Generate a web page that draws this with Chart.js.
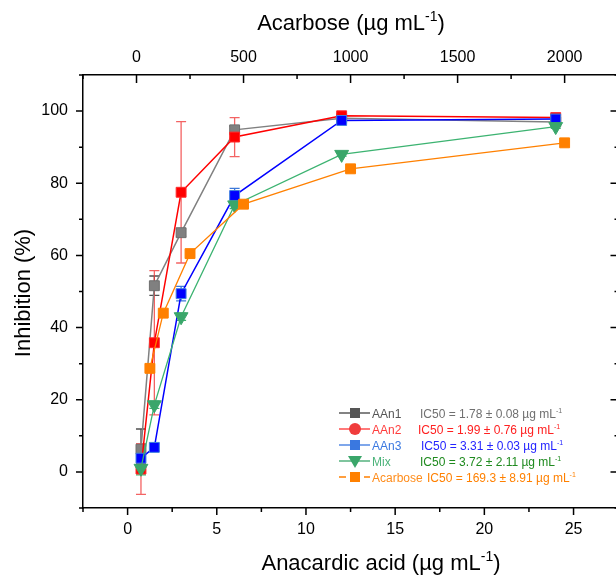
<!DOCTYPE html>
<html>
<head>
<meta charset="utf-8">
<script src="https://cdn.jsdelivr.net/npm/chart.js@4.4.0/dist/chart.umd.min.js"></script>
<style>
  html, body { margin: 0; padding: 0; background: #fff; overflow: hidden; }
  canvas { display: block; }
</style>
</head>
<body>
<canvas id="inhib" width="616" height="577"></canvas>
<script>
// concentrations
var aaConc = [0.75, 1.5, 3, 6, 12, 24];            // anacardic acid, ug/mL (bottom axis)
var acarboseConc = [62.5, 125, 250, 500, 1000, 2000]; // acarbose, ug/mL (top axis)

// inhibition (%) and error
var aan1 = [6.3, 51.6, 66.3, 94.8, 98.0, 97.0];
var aan1Err = [5.6, 2.7, 1.0, 1.0, 0.5, 0.5];
var aan2 = [0.8, 35.8, 77.5, 92.8, 98.7, 98.2];
var aan2Err = [7.0, 20.0, 19.6, 5.4, 0.8, 0.6];
var aan3 = [3.8, 6.8, 49.4, 76.6, 97.4, 97.8];
var aan3Err = [1.5, 1.0, 2.0, 2.0, 0.6, 0.6];
var mix = [1.0, 18.6, 43.0, 74.0, 88.0, 95.7];
var mixErr = [1.8, 1.0, 1.0, 1.0, 0.5, 0.5];
var acarbose = [28.7, 44.0, 60.5, 74.2, 84.0, 91.2];
var acarboseErr = [0, 0, 0, 0, 0, 0];

var xTicks = [0, 5, 10, 15, 20, 25];
var x2Ticks = [0, 500, 1000, 1500, 2000];
var yTicks = [0, 20, 40, 60, 80, 100];

var seriesNames = ['AAn1', 'AAn2', 'AAn3', 'Mix', 'Acarbose'];
var ic50Text = [
  'IC50 = 1.78 \u00b1 0.08 \u00b5g mL',
  'IC50 = 1.99 \u00b1 0.76 \u00b5g mL',
  'IC50 = 3.31 \u00b1 0.03 \u00b5g mL',
  'IC50 = 3.72 \u00b1 2.11 \u00b5g mL',
  'IC50 = 169.3 \u00b1 8.91 \u00b5g mL'
];

var FONT = '"Liberation Sans", Arial, sans-serif';
Chart.defaults.font.family = FONT;
Chart.defaults.color = '#000';

function pts(xs, ys) {
  return xs.map(function (x, i) { return { x: x, y: ys[i] }; });
}

// draw text with a superscript piece: parts = [[text, isSup], ...]
function supText(ctx, parts, x, y, size, align) {
  var big = size + 'px ' + FONT, small = Math.round(size * 0.62) + 'px ' + FONT;
  var w = 0;
  parts.forEach(function (p) { ctx.font = p[1] ? small : big; w += ctx.measureText(p[0]).width; });
  var cx = align === 'center' ? x - w / 2 : x;
  ctx.textAlign = 'left';
  ctx.textBaseline = 'alphabetic';
  parts.forEach(function (p) {
    ctx.font = p[1] ? small : big;
    ctx.fillText(p[0], cx, p[1] ? y - size * 0.4 : y);
    cx += ctx.measureText(p[0]).width;
  });
}

var errorSets = [aan1Err, aan2Err, aan3Err, mixErr, acarboseErr];
var errorColors = ['#505050', 'rgba(240,60,60,0.8)', '#3c78d8', '#3cb371', '#ff8000'];

var errorBars = {
  id: 'errorBars',
  beforeDatasetsDraw: function (chart) {
    var ctx = chart.ctx, y = chart.scales.y;
    ctx.save();
    ctx.lineWidth = 1.3;
    errorSets.forEach(function (errs, di) {
      var meta = chart.getDatasetMeta(di);
      ctx.strokeStyle = errorColors[di];
      meta.data.forEach(function (el, i) {
        var e = errs[i];
        if (!e) return;
        var v = chart.data.datasets[di].data[i].y;
        var top = y.getPixelForValue(v + e), bot = y.getPixelForValue(v - e);
        ctx.beginPath();
        ctx.moveTo(el.x, top); ctx.lineTo(el.x, bot);
        ctx.moveTo(el.x - 5, top); ctx.lineTo(el.x + 5, top);
        ctx.moveTo(el.x - 5, bot); ctx.lineTo(el.x + 5, bot);
        ctx.stroke();
      });
    });
    ctx.restore();
  }
};

var frame = {
  id: 'frame',
  afterDraw: function (chart) {
    var ctx = chart.ctx, a = chart.chartArea;
    var sx = chart.scales.x, sx2 = chart.scales.x2, sy = chart.scales.y;
    // the right frame line sits just past the canvas edge, only its inward ticks show
    var rightEdge = a.right + 2.5;
    ctx.save();
    ctx.strokeStyle = '#000';
    ctx.lineWidth = 1.5;
    ctx.beginPath();
    var v, p;
    // bottom: outward ticks
    for (v = -2.5; v <= 27.5; v += 2.5) {
      p = sx.getPixelForValue(v);
      if (p > a.right) break;
      ctx.moveTo(p, a.bottom); ctx.lineTo(p, a.bottom + (v % 5 === 0 ? 7 : 4));
    }
    // top: inward ticks
    for (v = -250; v <= 2250; v += 250) {
      p = sx2.getPixelForValue(v);
      if (p > a.right) break;
      ctx.moveTo(p, a.top); ctx.lineTo(p, a.top + (v % 500 === 0 ? 8 : 4));
    }
    // left: outward, right: inward
    for (v = -10; v <= 110; v += 10) {
      p = sy.getPixelForValue(v);
      var major = v % 20 === 0;
      ctx.moveTo(a.left, p); ctx.lineTo(a.left - (major ? 7 : 4), p);
      ctx.moveTo(rightEdge, p); ctx.lineTo(rightEdge - (major ? 8 : 4), p);
    }
    ctx.stroke();

    // axis titles
    ctx.fillStyle = '#000';
    supText(ctx, [['Acarbose (\u00b5g mL', false], ['-1', true], [')', false]], 351, 30, 22, 'center');
    supText(ctx, [['Anacardic acid (\u00b5g mL', false], ['-1', true], [')', false]], 381, 570, 22, 'center');
    ctx.save();
    ctx.translate(30, 293);
    ctx.rotate(-Math.PI / 2);
    supText(ctx, [['Inhibition (%)', false]], 0, 0, 22, 'center');
    ctx.restore();

    // legend
    var rows = [413, 429, 445, 461, 477];
    var lineCol = ['#404040', '#ff3030', '#3a78e0', '#3aa66a', '#ff8000'];
    var markCol = ['#555555', '#f03c3c', '#3a78e0', '#3aa66a', '#ff8000'];
    var labelCol = ['#555555', '#ff3c3c', '#3a78e0', '#4cb37a', '#ff8c1a'];
    var icCol = ['#707070', '#ff2020', '#2424ff', '#1f8a1f', '#ff8000'];
    var icX = [420, 418, 421, 420, 427];
    seriesNames.forEach(function (name, i) {
      var yy = rows[i];
      ctx.strokeStyle = lineCol[i];
      ctx.lineWidth = 1.3;
      ctx.beginPath();
      if (i === 4) {
        ctx.moveTo(339, yy); ctx.lineTo(346, yy);
        ctx.moveTo(364, yy); ctx.lineTo(370, yy);
      } else {
        ctx.moveTo(339, yy); ctx.lineTo(370, yy);
      }
      ctx.stroke();
      ctx.fillStyle = markCol[i];
      ctx.beginPath();
      if (i === 1) {
        ctx.arc(355, yy, 6, 0, Math.PI * 2);
      } else if (i === 3) {
        ctx.moveTo(348, yy - 5); ctx.lineTo(362, yy - 5); ctx.lineTo(355, yy + 7); ctx.closePath();
      } else {
        ctx.rect(350, yy - 5, 10, 10);
      }
      ctx.fill();
      ctx.fillStyle = labelCol[i];
      supText(ctx, [[name, false]], 372, yy + 4.5, 12, 'left');
      ctx.fillStyle = icCol[i];
      supText(ctx, [[ic50Text[i], false], ['-1', true]], icX[i], yy + 4.5, 12, 'left');
    });
    ctx.restore();
  }
};

function axisBase(min, max, tickList, pos, size, pad) {
  return {
    type: 'linear',
    position: pos,
    min: min,
    max: max,
    afterFit: function (s) {
      if (pos === 'left') { s.width = size; } else { s.height = size; }
      s.paddingLeft = 0; s.paddingRight = 0; s.paddingTop = 0; s.paddingBottom = 0;
    },
    afterBuildTicks: function (s) {
      s.ticks = tickList.map(function (v) { return { value: v }; });
    },
    grid: { display: false, drawTicks: false },
    border: { display: true, color: '#000', width: 1.5 },
    ticks: {
      autoSkip: false, maxRotation: 0, padding: pad, color: '#000', font: { size: 16 },
      callback: function (v) { return String(v); }
    }
  };
}

var ctx = document.getElementById('inhib').getContext('2d');
var chart = new Chart(ctx, {
  type: 'line',
  data: {
    datasets: [
      {
        label: 'AAn1', data: pts(aaConc, aan1), xAxisID: 'x', yAxisID: 'y', order: 5,
        borderColor: '#808080', pointBackgroundColor: '#808080', pointBorderColor: '#6e6e6e',
        pointStyle: 'rect', pointRadius: 7, borderWidth: 1.5, pointBorderWidth: 1
      },
      {
        label: 'AAn2', data: pts(aaConc, aan2), xAxisID: 'x', yAxisID: 'y', order: 4,
        borderColor: '#ff0000', pointBackgroundColor: '#ff0000', pointBorderColor: '#ff2a2a',
        pointStyle: 'rect', pointRadius: 7, borderWidth: 1.5, pointBorderWidth: 1
      },
      {
        label: 'AAn3', data: pts(aaConc, aan3), xAxisID: 'x', yAxisID: 'y', order: 3,
        borderColor: '#0000ff', pointBackgroundColor: '#0000ff', pointBorderColor: '#3d7fe0',
        pointStyle: 'rect', pointRadius: 7, borderWidth: 1.5, pointBorderWidth: 1
      },
      {
        label: 'Mix', data: pts(aaConc, mix), xAxisID: 'x', yAxisID: 'y', order: 2,
        borderColor: '#3cb371', pointBackgroundColor: '#3aa66a', pointBorderColor: '#3aa66a',
        pointStyle: 'triangle', pointRotation: 180, pointRadius: 8, borderWidth: 1.3, pointBorderWidth: 1
      },
      {
        label: 'Acarbose', data: pts(acarboseConc, acarbose), xAxisID: 'x2', yAxisID: 'y', order: 1,
        borderColor: '#ff8000', pointBackgroundColor: '#ff8000', pointBorderColor: '#ff8000',
        pointStyle: 'rect', pointRadius: 7, borderWidth: 1.3, pointBorderWidth: 1
      }
    ]
  },
  options: {
    responsive: false,
    animation: false,
    layout: { padding: 0, autoPadding: false },
    plugins: { legend: { display: false }, tooltip: { enabled: false } },
    scales: {
      // visible window ends a little before the right frame of the original plot
      x: axisBase(-2.5, 27.38, xTicks, 'bottom', 69, 12),
      x2: axisBase(-250, 2240, x2Ticks, 'top', 75, 8),
      y: axisBase(-10, 110, yTicks, 'left', 83, 15)
    }
  },
  plugins: [errorBars, frame]
});
</script>
</body>
</html>
